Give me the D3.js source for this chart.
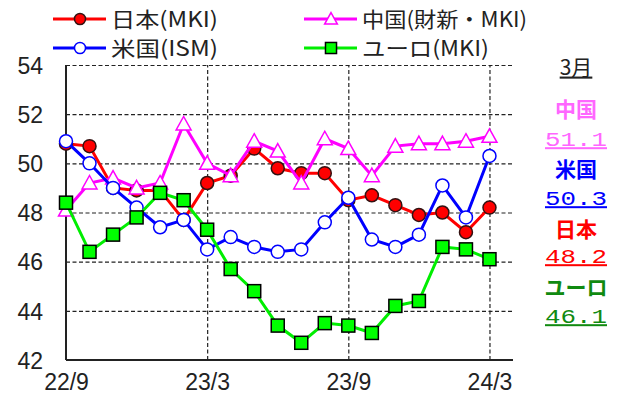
<!DOCTYPE html>
<html>
<head>
<meta charset="utf-8">
<script src="https://cdn.jsdelivr.net/npm/d3@7"></script>
<style>
  body { margin: 0; background: #fff; }
  svg { display: block; }
  text { font-family: "Liberation Sans", Arial, sans-serif; }
  text.jp { font-family: "Noto Sans CJK JP", sans-serif; }
  text.mono { font-family: "Liberation Mono", monospace; }
</style>
</head>
<body>
<svg id="svg1" width="629" height="403"></svg>
<script>
var months = ['22/9','22/10','22/11','22/12','23/1','23/2','23/3','23/4','23/5','23/6','23/7','23/8','23/9','23/10','23/11','23/12','24/1','24/2','24/3'];
var xTickIdx = [0, 6, 12, 18];
var yTicks = [42, 44, 46, 48, 50, 52, 54];

var japan = [50.8, 50.7, 49.0, 48.9, 48.9, 47.7, 49.2, 49.5, 50.6, 49.8, 49.6, 49.6, 48.5, 48.7, 48.3, 47.9, 48.0, 47.2, 48.2];
var china = [48.1, 49.2, 49.4, 49.0, 49.2, 51.6, 50.0, 49.5, 50.9, 50.5, 49.2, 51.0, 50.6, 49.5, 50.7, 50.8, 50.8, 50.9, 51.1];
var usa   = [50.9, 50.0, 49.0, 48.2, 47.4, 47.7, 46.5, 47.0, 46.6, 46.4, 46.5, 47.6, 48.6, 46.9, 46.6, 47.1, 49.1, 47.8, 50.3];
var euro  = [48.4, 46.4, 47.1, 47.8, 48.8, 48.5, 47.3, 45.7, 44.8, 43.4, 42.7, 43.5, 43.4, 43.1, 44.2, 44.4, 46.6, 46.5, 46.1];

var legendNames = ['日本(MKI)', '中国(財新・MKI)', '米国(ISM)', 'ユーロ(MKI)'];
var sideNames = ['中国', '米国', '日本', 'ユーロ'];
var latestLabel = '3月';

var svg = d3.select('#svg1');

var x = d3.scaleLinear().domain([0, 19]).range([66, 513]);
var y = d3.scaleLinear().domain([42, 54]).range([360, 65]);

// horizontal grid + y labels
var yAxis = svg.append('g')
    .attr('transform', 'translate(66,0)')
    .call(d3.axisLeft(y).tickValues(yTicks).tickSize(-(513 - 66)).tickPadding(23).tickFormat(d3.format('d')));
yAxis.select('.domain').remove();
yAxis.selectAll('line')
    .attr('stroke', '#222')
    .attr('stroke-width', 1.2)
    .attr('stroke-dasharray', '4,2.5')
    .attr('stroke-opacity', function (d) { return d === 42 ? 0 : 1; });
yAxis.selectAll('text')
    .attr('font-size', 23)
    .attr('fill', '#222')
    .attr('dy', '0.36em');

// vertical grid + x labels
var xAxis = svg.append('g')
    .attr('transform', 'translate(0,360)')
    .call(d3.axisBottom(x).tickValues(xTickIdx).tickSize(-(360 - 65)).tickPadding(14)
        .tickFormat(function (d) { return months[d]; }));
xAxis.select('.domain').remove();
xAxis.selectAll('line')
    .attr('stroke', '#222')
    .attr('stroke-width', 1.2)
    .attr('stroke-dasharray', '4,2.5')
    .attr('stroke-opacity', function (d) { return d === 0 ? 0 : 1; });
xAxis.selectAll('text')
    .attr('font-size', 23)
    .attr('fill', '#222')
    .attr('dy', '0.7em');

// solid axis lines
svg.append('line').attr('x1', 66).attr('x2', 66).attr('y1', 65).attr('y2', 360)
    .attr('stroke', '#222').attr('stroke-width', 2);
svg.append('line').attr('x1', 66).attr('x2', 513).attr('y1', 360).attr('y2', 360)
    .attr('stroke', '#222').attr('stroke-width', 2);

var line = d3.line()
    .x(function (d, i) { return x(i); })
    .y(function (d) { return y(d); });

var series = [
    { name: legendNames[0], data: japan, color: '#ff0000', shape: 'circle', fill: '#ff0000', mstroke: '#331111' },
    { name: legendNames[1], data: china, color: '#ff00ff', shape: 'triangle', fill: '#ffffff', mstroke: '#ff00ff' },
    { name: legendNames[2], data: usa,   color: '#0000ff', shape: 'circle', fill: '#ffffff', mstroke: '#0000ff' },
    { name: legendNames[3], data: euro,  color: '#00ee00', shape: 'square', fill: '#00ff00', mstroke: '#000000' }
];

function drawMarker(g, s, cx, cy, scale) {
    scale = scale || 1;
    if (s.shape === 'circle') {
        g.append('circle').attr('cx', cx).attr('cy', cy).attr('r', 6.5 * scale)
            .attr('fill', s.fill).attr('stroke', s.mstroke).attr('stroke-width', 1.5);
    } else if (s.shape === 'square') {
        var h = 6.5 * scale;
        g.append('rect').attr('x', cx - h).attr('y', cy - h).attr('width', 2 * h).attr('height', 2 * h)
            .attr('fill', s.fill).attr('stroke', s.mstroke).attr('stroke-width', 1.5);
    } else {
        var t = 7.5 * scale;
        g.append('path')
            .attr('d', 'M' + cx + ',' + (cy - t) + 'L' + (cx + t) + ',' + (cy + t * 0.8) + 'L' + (cx - t) + ',' + (cy + t * 0.8) + 'Z')
            .attr('fill', s.fill).attr('stroke', s.mstroke).attr('stroke-width', 1.5);
    }
}

series.forEach(function (s) {
    var g = svg.append('g');
    g.append('path')
        .datum(s.data)
        .attr('d', line)
        .attr('fill', 'none')
        .attr('stroke', s.color)
        .attr('stroke-width', 3);
    s.data.forEach(function (v, i) {
        drawMarker(g, s, x(i), y(v));
    });
});

// legend
var legendPos = [[53, 19], [304, 19], [53, 48], [304, 48]];
var legendW = [107, 165, 107, 127];
series.forEach(function (s, i) {
    var g = svg.append('g').attr('transform', 'translate(' + legendPos[i][0] + ',' + legendPos[i][1] + ')');
    g.append('line').attr('x1', 0).attr('x2', 53).attr('y1', 0).attr('y2', 0)
        .attr('stroke', s.color).attr('stroke-width', 3);
    drawMarker(g, s, 27, 0, 0.85);
    g.append('text').attr('class', 'jp')
        .attr('x', 58).attr('y', 0).attr('dy', '0.36em')
        .attr('font-size', 21)
        .attr('textLength', legendW[i]).attr('lengthAdjust', 'spacingAndGlyphs')
        .attr('fill', '#222')
        .text(s.name);
});

// latest values panel
var side = [
    { name: sideNames[0], value: china[18], color: '#ff66ff' },
    { name: sideNames[1], value: usa[18],   color: '#0000ff' },
    { name: sideNames[2], value: japan[18], color: '#ff0000' },
    { name: sideNames[3], value: euro[18],  color: '#108a10' }
];
var sx = 576;
var nameY = [109, 169, 229, 287];
var valueY = [139, 198, 256, 316];
svg.append('text').attr('class', 'jp')
    .attr('x', sx).attr('y', 67).attr('dy', '0.36em')
    .attr('text-anchor', 'middle').attr('font-size', 21).attr('fill', '#222')
    .attr('text-decoration', 'underline')
    .text(latestLabel);
side.forEach(function (d, i) {
    svg.append('text').attr('class', 'jp')
        .attr('x', sx).attr('y', nameY[i]).attr('dy', '0.36em')
        .attr('text-anchor', 'middle').attr('font-size', 21).attr('font-weight', 'bold')
        .attr('fill', d.color)
        .text(d.name);
    svg.append('text').attr('class', 'mono')
        .attr('x', sx).attr('y', valueY[i]).attr('dy', '0.36em')
        .attr('text-anchor', 'middle').attr('font-size', 20)
        .attr('textLength', 62).attr('lengthAdjust', 'spacingAndGlyphs')
        .attr('text-decoration', 'underline')
        .attr('fill', d.color)
        .text(d.value.toFixed(1));
});
</script>
</body>
</html>
